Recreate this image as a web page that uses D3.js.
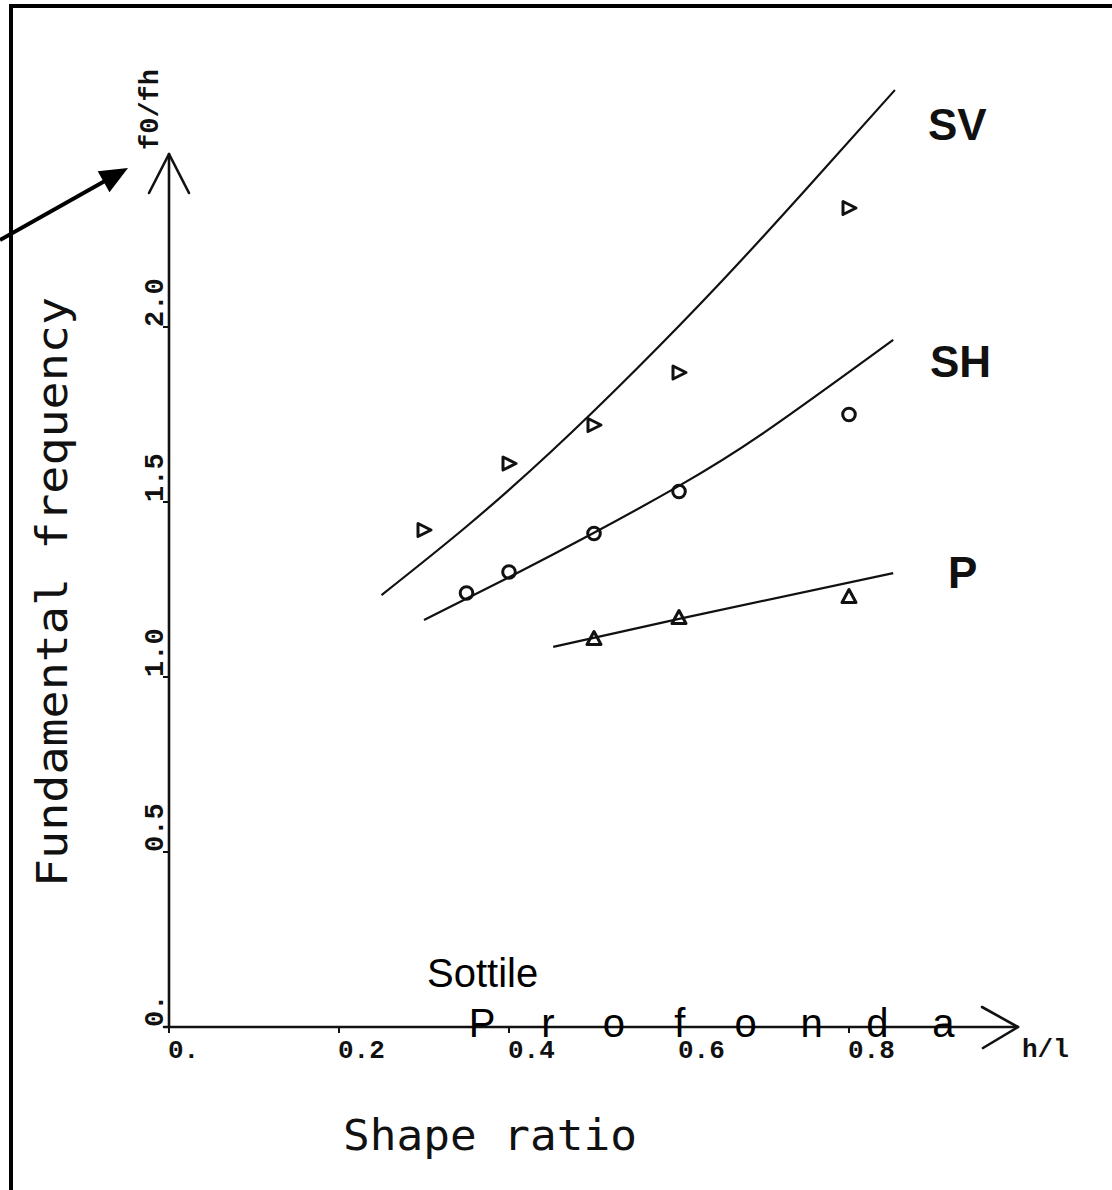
<!DOCTYPE html>
<html>
<head>
<meta charset="utf-8">
<script src="https://cdn.jsdelivr.net/npm/d3@7"></script>
<style>
  html, body { margin: 0; padding: 0; background: #fff; }
  svg { display: block; }
</style>
</head>
<body>
<svg id="chart" width="1112" height="1190"></svg>
<script>
// Axis ticks
const xTicks = [0, 0.2, 0.4, 0.6, 0.8];
const xTickLabels = ["0.", "0.2", "0.4", "0.6", "0.8"];
const yTicks = [0, 0.5, 1.0, 1.5, 2.0];
const yTickLabels = ["0.", "0.5", "1.0", "1.5", "2.0"];

// Measured points (shape ratio h/l vs f0/fh)
const svX = [0.3, 0.4, 0.5, 0.6, 0.8];
const svY = [1.42, 1.61, 1.72, 1.87, 2.34];
const shX = [0.35, 0.4, 0.5, 0.6, 0.8];
const shY = [1.24, 1.30, 1.41, 1.53, 1.75];
const pX = [0.5, 0.6, 0.8];
const pY = [1.11, 1.17, 1.23];

// Theoretical curves
const svCurveX = [0.25, 0.35, 0.45, 0.55, 0.65, 0.75, 0.854];
const svCurveY = [1.234, 1.43, 1.645, 1.88, 2.13, 2.395, 2.677];
const shCurveX = [0.30, 0.40, 0.50, 0.60, 0.70, 0.852];
const shCurveY = [1.163, 1.285, 1.412, 1.546, 1.698, 1.963];
const pCurveX = [0.452, 0.60, 0.852];
const pCurveY = [1.086, 1.166, 1.297];

const seriesNames = ["SV", "SH", "P"];

const svg = d3.select("#chart");

const x = d3.scaleLinear().domain([0, 1]).range([169, 1019]);
const y = d3.scaleLinear().domain([0, 1]).range([1027, 677]);

// Outer frame
svg.append("rect")
  .attr("x", 11).attr("y", 6)
  .attr("width", 1300).attr("height", 1400)
  .attr("fill", "none").attr("stroke", "#000").attr("stroke-width", 4);

const ink = "#111";
const monoFont = "'Liberation Mono', 'DejaVu Sans Mono', monospace";
const plotFont = "'DejaVu Sans Mono', monospace";

// Axes with open arrowheads
const axes = svg.append("g").attr("stroke", ink).attr("fill", "none")
  .attr("stroke-width", 2.6).attr("stroke-linecap", "round").attr("stroke-linejoin", "round");
axes.append("line").attr("x1", x(0)).attr("y1", y(0)).attr("x2", x(0)).attr("y2", 154);
axes.append("polyline").attr("points", `${x(0) - 20},193 ${x(0)},154 ${x(0) + 20},193`);
axes.append("line").attr("x1", x(0) - 5).attr("y1", y(0)).attr("x2", 1018).attr("y2", y(0));
axes.append("polyline").attr("points", `982,${y(0) - 20} 1018,${y(0)} 983,${y(0) + 21}`);

// Ticks
const tickG = svg.append("g").attr("stroke", ink).attr("stroke-width", 2);
xTicks.forEach(t => {
  tickG.append("line").attr("x1", x(t)).attr("x2", x(t)).attr("y1", y(0)).attr("y2", y(0) + 6);
});
yTicks.forEach(t => {
  tickG.append("line").attr("x1", x(0) - 6).attr("x2", x(0)).attr("y1", y(t)).attr("y2", y(t));
});

// Tick labels
svg.append("g").selectAll("text").data(xTicks).join("text")
  .attr("x", d => x(d) - 1).attr("y", 1058)
  .attr("font-family", monoFont).attr("font-weight", "bold").attr("font-size", 26)
  .attr("fill", ink)
  .text((d, i) => xTickLabels[i]);

svg.append("g").selectAll("text").data(yTicks).join("text")
  .attr("transform", d => `translate(163,${y(d)}) rotate(-90)`)
  .attr("font-family", monoFont).attr("font-weight", "bold").attr("font-size", 27)
  .attr("fill", ink)
  .text((d, i) => yTickLabels[i]);

// Axis end labels
svg.append("text").attr("x", 1022).attr("y", 1057)
  .attr("font-family", monoFont).attr("font-weight", "bold").attr("font-size", 26)
  .attr("fill", ink).text("h/l");
svg.append("text").attr("transform", "translate(158,150) rotate(-90)")
  .attr("font-family", monoFont).attr("font-weight", "bold").attr("font-size", 27)
  .attr("fill", ink).text("f0/fh");

// Axis titles
svg.append("text").attr("transform", "translate(67,887) rotate(-90)")
  .attr("font-family", plotFont).attr("font-size", 42)
  .attr("textLength", 590).attr("lengthAdjust", "spacingAndGlyphs")
  .attr("fill", ink).text("Fundamental frequency");
svg.append("text").attr("x", 343).attr("y", 1150)
  .attr("font-family", plotFont).attr("font-size", 42)
  .attr("textLength", 294).attr("lengthAdjust", "spacingAndGlyphs")
  .attr("fill", ink).text("Shape ratio");

// Curves
const line = d3.line().x(d => x(d[0])).y(d => y(d[1])).curve(d3.curveNatural);
const curves = [
  d3.zip(svCurveX, svCurveY),
  d3.zip(shCurveX, shCurveY),
  d3.zip(pCurveX, pCurveY)
];
svg.append("g").selectAll("path").data(curves).join("path")
  .attr("d", line)
  .attr("fill", "none").attr("stroke", ink).attr("stroke-width", 2.2);

// Markers
const mk = svg.append("g").attr("fill", "none").attr("stroke", ink).attr("stroke-width", 3)
  .attr("stroke-linejoin", "round");
// SV: right-pointing triangles
mk.selectAll(".sv").data(d3.zip(svX, svY)).join("path")
  .attr("class", "sv")
  .attr("transform", d => `translate(${x(d[0])},${y(d[1])})`)
  .attr("d", "M-6,-6.5 L7,0 L-6,6.5 Z");
// SH: circles
mk.selectAll(".sh").data(d3.zip(shX, shY)).join("circle")
  .attr("class", "sh")
  .attr("cx", d => x(d[0])).attr("cy", d => y(d[1])).attr("r", 6.3);
// P: upward triangles
mk.selectAll(".p").data(d3.zip(pX, pY)).join("path")
  .attr("class", "p")
  .attr("transform", d => `translate(${x(d[0])},${y(d[1])})`)
  .attr("d", "M-7,6 L0,-7 L7,6 Z");

// Series labels
const labelPos = [[928, 140], [930, 377], [948, 588]];
svg.append("g").selectAll("text").data(seriesNames).join("text")
  .attr("x", (d, i) => labelPos[i][0]).attr("y", (d, i) => labelPos[i][1])
  .attr("font-family", "'Liberation Sans', Arial, sans-serif").attr("font-weight", "bold")
  .attr("font-size", 44).attr("fill", ink)
  .text(d => d);

// Thin / deep annotations
const sans = "'Liberation Sans', Arial, sans-serif";
svg.append("text").attr("x", 427).attr("y", 987)
  .attr("font-family", sans).attr("font-size", 40).attr("fill", "#000")
  .text("Sottile");
const deepLetters = "Profonda";
const deepX = d3.range(deepLetters.length).map(i => 482 + i * 65.9);
svg.append("text")
  .attr("x", deepX.join(" ")).attr("y", 1037)
  .attr("text-anchor", "middle")
  .attr("font-family", sans).attr("font-size", 40).attr("fill", "#000")
  .text(deepLetters);

// Pointer arrow toward the vertical axis
const tip = [128, 168], tail = [0, 240];
const ux = (tip[0] - tail[0]), uy = (tip[1] - tail[1]);
const len = Math.hypot(ux, uy);
const u = [ux / len, uy / len], n = [-u[1], u[0]];
const base = [tip[0] - 28 * u[0], tip[1] - 28 * u[1]];
svg.append("line")
  .attr("x1", tail[0]).attr("y1", tail[1]).attr("x2", base[0] + 2 * u[0]).attr("y2", base[1] + 2 * u[1])
  .attr("stroke", "#000").attr("stroke-width", 4);
svg.append("polygon")
  .attr("points", [
    tip,
    [base[0] + 12 * n[0], base[1] + 12 * n[1]],
    [base[0] - 12 * n[0], base[1] - 12 * n[1]]
  ].map(p => p.join(",")).join(" "))
  .attr("fill", "#000");
</script>
</body>
</html>
